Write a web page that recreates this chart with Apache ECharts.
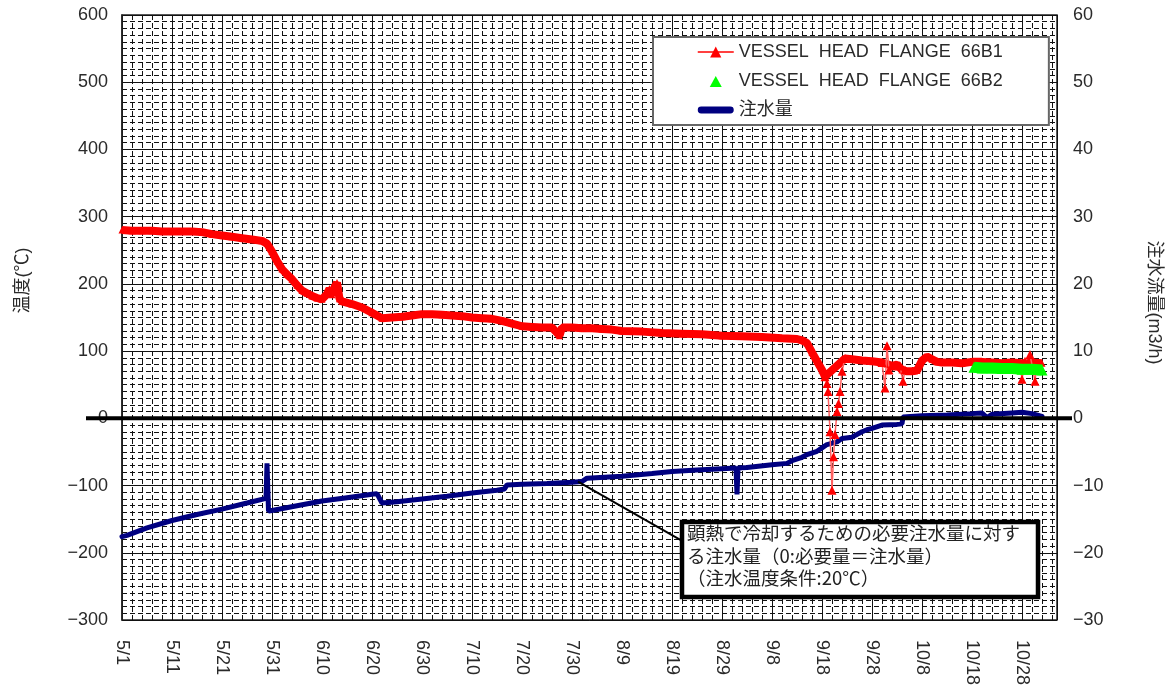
<!DOCTYPE html>
<html>
<head>
<meta charset="utf-8">
<script src="https://cdn.jsdelivr.net/npm/echarts@6/dist/echarts.min.js"></script>
<style>
  html, body { margin: 0; padding: 0; background: #fff; }
  #chart { width: 1174px; height: 691px; }
</style>
</head>
<body>
<div id="chart"></div>
<script>
// x axis: days counted from 5/1; one label every 10 days
const dateLabels = ['5/1','5/11','5/21','5/31','6/10','6/20','6/30','7/10','7/20','7/30',
  '8/9','8/19','8/29','9/8','9/18','9/28','10/8','10/18','10/28'];

// VESSEL HEAD FLANGE 66B1 (℃) – main trend
const b1Days = [0,2,4,6,8,10,12,14,16,18,20,22,24,26,28,29,30,31,32,33,34,35,36,37,38,39,40,
  41,41.5,42,42.5,43,43.5,44,46,48,50,52,54,56,58,60,62,64,66,68,70,72,74,76,78,80,82,84,86,
  87.5,88,90,92,94,96,98,100,104,108,112,116,120,124,128,132,135,136,137,138,139,140,140.6,
  144.6,146,148,150,152,154,155,156,157,158,159,160,161,162,163,164,166,168,170,172,174,176,
  178,180,182,184];
const b1Temps = [280,279,279,279,278,278,278,278,277,274,272,270,268,266,264,260,248,234,222,
  214,207,198,190,186,182,179,177,185,193,184,195,202,178,174,170,165,157,149,150,151,153,155,
  155,154,153,152,150,149,148,145,141,137,136,135,135,123,135,135,134,134,133,132,130,129,127,
  126,125,123,122,121,119,118,116,112,98,85,72,62,89,88,86,85,83,78,80,72,70,70,71,86,92,88,84,
  83,83,82,84,84,83,82,83,82,83,82];

// 66B1 – short excursions (null breaks the line between them)
const b1SpikeDays = [140.6,141,141.2,141.6,142,142.3,142.6,143,143.3,143.6,144,144.6,null,
  152,152.6,153,153.4,154,null,155.6,156.2,156.6,null,179.6,180,180.6,181.6,182.6,183];
const b1SpikeTemps = [62,52,40,-20,-107,-57,-24,10,22,40,70,89,null,
  83,45,108,72,78,null,78,55,72,null,82,58,85,95,55,82];

// VESSEL HEAD FLANGE 66B2 (℃)
const b2Days = [170.4,172,174,176,178,180,182,184];
const b2Temps = [76,75,75,74,74,73,73,72];

// 注水量 (m3/h), relative to the required flow
const flowDays = [0,1,5,10,15,20,25,28.8,29,29.3,30,35,40,45,50,51,52,55,60,65,70,75,76.5,77,80,
  85,90,92,93,100,106,110,115,120,122.8,123,123.2,125,130,133,134,136,137,139,140,141,143,144,
  146,148,149,150,152,155,156,156.2,160,165,170,172,173,174,178,180,182,184];
const flowValues = [-17.6,-17.4,-16.3,-15.2,-14.3,-13.5,-12.6,-11.9,-6.7,-13.8,-13.7,-13.0,
  -12.3,-11.8,-11.3,-11.2,-12.6,-12.4,-12.0,-11.6,-11.1,-10.7,-10.5,-9.9,-9.8,-9.7,-9.5,-9.4,
  -8.9,-8.6,-8.2,-7.9,-7.7,-7.5,-7.4,-11.3,-7.4,-7.3,-6.9,-6.7,-6.3,-5.8,-5.4,-4.9,-4.4,-3.9,
  -3.5,-3.0,-2.8,-2.0,-1.7,-1.5,-1.0,-0.9,-0.8,0.2,0.4,0.5,0.7,0.8,0.1,0.6,0.8,0.9,0.7,0.3];

const leftTicks = { min: -300, max: 600, step: 100 };
const rightTicks = { min: -30, max: 60, step: 10 };

const NAME_B1 = 'VESSEL  HEAD  FLANGE  66B1';
const NAME_B2 = 'VESSEL  HEAD  FLANGE  66B2';
const NAME_FLOW = '注水量';

const zip = (xs, ys) => xs.map((x, i) => (x === null ? null : [x, ys[i]]));
const minus = v => String(v).replace('-', '\u2212');

const latin = '"Liberation Sans", Arial, sans-serif';
const cjk = '"Liberation Sans", "Noto Sans CJK JP", sans-serif';
const inkColor = '#2a2a2a';

// legend glyphs drawn inside a 36x14 box (corner moves fix the box size)
const triangleIcon = 'path://M0,0M36,14M12,13L18,2L24,13Z';
const barIcon = 'path://M0,0M36,14M3,3.5L33,3.5A3.5,3.5,0,0,1,33,10.5L3,10.5A3.5,3.5,0,0,1,3,3.5Z';

const minorDash = { color: '#111', width: 1, type: [5, 3] };

const chart = echarts.init(document.getElementById('chart'), null, { renderer: 'canvas' });

const option = {
  backgroundColor: '#fff',
  animation: false,
  grid: {
    left: 122, top: 15, right: 117, bottom: 71,
    outerBoundsMode: 'none', containLabel: false,
    show: true, borderColor: '#222', borderWidth: 1.5, backgroundColor: '#fff'
  },
  xAxis: {
    type: 'value', min: 0, max: 187, interval: 10,
    axisLine: { show: false },
    axisTick: { show: false },
    axisLabel: {
      rotate: -90, margin: 20, fontSize: 18, color: inkColor, fontFamily: latin,
      formatter: v => (v % 10 === 0 && dateLabels[v / 10] !== undefined ? dateLabels[v / 10] : '')
    },
    splitLine: { show: true, lineStyle: { color: '#111', width: 1 } },
    minorTick: { show: false, splitNumber: 5 },
    minorSplitLine: { show: true, lineStyle: minorDash }
  },
  yAxis: [
    {
      type: 'value', min: leftTicks.min, max: leftTicks.max, interval: leftTicks.step,
      name: '温度(℃)', nameLocation: 'middle', nameGap: 90, nameRotate: 90,
      nameTextStyle: { fontSize: 18, color: inkColor, fontFamily: cjk, padding: [0, 0, 0, 74] },
      axisLine: { show: true, lineStyle: { color: '#222', width: 1.5 } },
      axisTick: { show: false },
      axisLabel: { fontSize: 18, color: inkColor, fontFamily: latin, margin: 14, formatter: minus },
      splitLine: { show: true, lineStyle: { color: '#111', width: 1 } },
      minorTick: { show: false, splitNumber: 10 },
      minorSplitLine: { show: true, lineStyle: minorDash }
    },
    {
      type: 'value', min: rightTicks.min, max: rightTicks.max, interval: rightTicks.step,
      position: 'right',
      name: '注水流量(m3/h)', nameLocation: 'middle', nameGap: 88, nameRotate: -90,
      nameTextStyle: { fontSize: 18, color: inkColor, fontFamily: cjk, padding: [0, 30, 0, 0] },
      axisLine: { show: false },
      axisTick: { show: false },
      axisLabel: { fontSize: 18, color: inkColor, fontFamily: latin, margin: 16, formatter: minus },
      splitLine: { show: false }
    }
  ],
  legend: {
    orient: 'vertical', left: 653, top: 37,
    padding: [6, 46, 6, 44], itemGap: 11, itemWidth: 36, itemHeight: 14,
    backgroundColor: '#fff', borderColor: '#666', borderWidth: 2,
    textStyle: { fontSize: 18, color: inkColor, fontFamily: cjk },
    data: [
      { name: NAME_B1, lineStyle: { width: 1.5 } },
      { name: NAME_B2, icon: triangleIcon, itemStyle: { color: '#00ff00' } },
      { name: NAME_FLOW, icon: barIcon, itemStyle: { color: '#000080' } }
    ]
  },
  series: [
    {
      name: NAME_B1, type: 'line', yAxisIndex: 0, z: 3,
      data: zip(b1Days, b1Temps),
      color: '#ff0000',
      lineStyle: { color: '#ff0000', width: 8 },
      symbol: 'triangle', symbolSize: 7, showSymbol: true,
      itemStyle: { color: '#ff0000' }
    },
    {
      name: NAME_B1, type: 'line', yAxisIndex: 0, z: 4,
      data: zip(b1SpikeDays, b1SpikeTemps),
      connectNulls: false,
      lineStyle: { color: '#ff6060', width: 1.5 },
      symbol: 'triangle', symbolSize: 9, showSymbol: true,
      itemStyle: { color: '#ff0000' }
    },
    {
      name: NAME_B2, type: 'line', yAxisIndex: 0, z: 5,
      data: zip(b2Days, b2Temps),
      color: '#00ff00',
      lineStyle: { color: '#00ff00', width: 11 },
      symbol: 'triangle', symbolSize: 11, showSymbol: true,
      itemStyle: { color: '#00ff00' }
    },
    {
      name: NAME_FLOW, type: 'line', yAxisIndex: 1, z: 3,
      data: zip(flowDays, flowValues),
      color: '#000080',
      lineStyle: { color: '#000080', width: 5, cap: 'round' },
      symbol: 'none',
      markLine: {
        silent: true, symbol: ['none', 'none'],
        label: { show: false },
        lineStyle: { color: '#000', width: 2, type: 'solid' },
        data: [[{ coord: [91.2, -9.4] }, { coord: [112.2, -18.3] }]]
      }
    }
  ],
  graphic: [
    {
      id: 'noteBox', type: 'rect', z: 100,
      shape: { x: 682, y: 522, width: 356, height: 75 },
      style: { fill: '#fff', stroke: '#000', lineWidth: 4.5 }
    },
    {
      id: 'noteText', type: 'text', z: 101, left: 687, top: 522,
      style: {
        text: '顕熱で冷却するための必要注水量に対す\nる注水量（0:必要量＝注水量）\n（注水温度条件:20℃）',
        font: '18.5px "Noto Sans CJK JP", sans-serif', fill: '#222', lineHeight: 22.5
      }
    }
  ]
};

chart.setOption(option);

// Bold zero line on the temperature scale, running a little past both plot edges
const zeroY = chart.convertToPixel({ yAxisIndex: 0 }, 0);
const gridRect = chart.getModel().getComponent('grid').coordinateSystem.getRect();
chart.setOption({
  graphic: [{
    id: 'zeroLine', type: 'line', z: 50,
    shape: { x1: gridRect.x - 36, y1: zeroY, x2: gridRect.x + gridRect.width + 15, y2: zeroY },
    style: { stroke: '#000', lineWidth: 4 }
  }]
});
</script>
</body>
</html>
